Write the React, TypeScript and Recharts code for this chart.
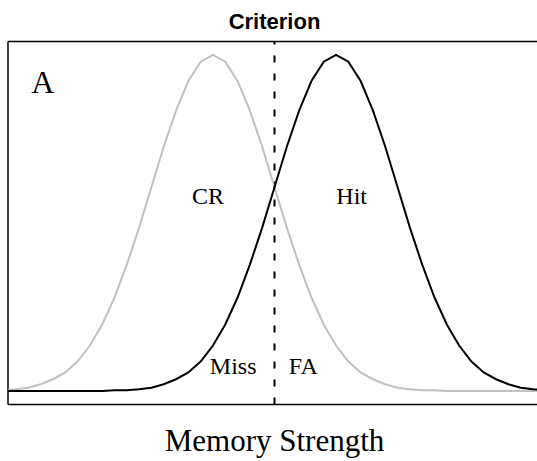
import React from "react";
import {
  LineChart,
  Line,
  XAxis,
  YAxis,
  ReferenceLine,
  ReferenceDot,
  Label,
} from "recharts";

// memory strength (x), read at steps of 0.2
const strength = [
  -3.4, -3.2, -3.0, -2.8, -2.6, -2.4, -2.2, -2.0, -1.8, -1.6, -1.4, -1.2,
  -1.0, -0.8, -0.6, -0.4, -0.2, 0.0, 0.2, 0.4, 0.6, 0.8, 1.0, 1.2, 1.4, 1.6,
  1.8, 2.0, 2.2, 2.4, 2.6, 2.8, 3.0, 3.2, 3.4, 3.6, 3.8, 4.0, 4.2, 4.4, 4.6,
  4.8, 5.0, 5.2, 5.4,
];

// new items (grey curve)
const newItems = [
  0.001, 0.002, 0.004, 0.008, 0.014, 0.022, 0.035, 0.054, 0.079, 0.111, 0.15,
  0.194, 0.242, 0.29, 0.333, 0.368, 0.391, 0.399, 0.391, 0.368, 0.333, 0.29,
  0.242, 0.194, 0.15, 0.111, 0.079, 0.054, 0.035, 0.022, 0.014, 0.008, 0.004,
  0.002, 0.001, 0.001, 0, 0, 0, 0, 0, 0, 0, 0, 0,
];

// old items (black curve)
const oldItems = [
  0, 0, 0, 0, 0, 0, 0, 0, 0, 0.001, 0.001, 0.002, 0.004, 0.008, 0.014, 0.022,
  0.035, 0.054, 0.079, 0.111, 0.15, 0.194, 0.242, 0.29, 0.333, 0.368, 0.391,
  0.399, 0.391, 0.368, 0.333, 0.29, 0.242, 0.194, 0.15, 0.111, 0.079, 0.054,
  0.035, 0.022, 0.014, 0.008, 0.004, 0.002, 0.001,
];

const criterion = 1;

const data = strength.map((x, i) => ({
  x,
  newItems: newItems[i],
  oldItems: oldItems[i],
}));

const serif = "'Liberation Serif', 'Times New Roman', serif";
const sans = "'Liberation Sans', Arial, Helvetica, sans-serif";

const xDomain: [number, number] = [-3.33, 5.33];
const yDomain: [number, number] = [-0.016, 0.415];

function textDot(x: number, y: number, text: string, size = 24) {
  return (
    <ReferenceDot
      x={x}
      y={y}
      r={0}
      fill="none"
      stroke="none"
      ifOverflow="visible"
      label={{
        value: text,
        position: "center",
        fill: "#000",
        fontSize: size,
        fontFamily: serif,
      }}
    />
  );
}

export default function App() {
  return (
    <div
      style={{
        position: "absolute",
        left: 0,
        top: 0,
        width: 537,
        height: 461,
        overflow: "hidden",
        background: "#fff",
      }}
    >
      <LineChart
        width={560}
        height={461}
        data={data}
        margin={{ top: 41.5, right: 19, bottom: 0, left: 8 }}
      >
        <XAxis
          dataKey="x"
          type="number"
          domain={xDomain}
          allowDataOverflow
          height={56.5}
          axisLine={false}
          tickLine={false}
          tick={false}
        >
          <Label
            value="Memory Strength"
            position="insideBottom"
            offset={10}
            fill="#000"
            fontSize={31}
            fontFamily={serif}
          />
        </XAxis>
        <YAxis type="number" domain={yDomain} allowDataOverflow hide />
        {/* box: top, bottom, left (right side falls outside the frame) */}
        <ReferenceLine y={yDomain[1]} stroke="#000" strokeWidth={1.5} ifOverflow="visible" />
        <ReferenceLine y={yDomain[0]} stroke="#000" strokeWidth={1.5} ifOverflow="visible" />
        <ReferenceLine x={xDomain[0]} stroke="#000" strokeWidth={1.5} ifOverflow="visible" />
        <ReferenceLine
          x={criterion}
          stroke="#000"
          strokeWidth={2}
          strokeDasharray="7 11"
          label={{
            value: "Criterion",
            position: "top",
            offset: 12.5,
            fill: "#000",
            fontSize: 22,
            fontWeight: "bold",
            fontFamily: sans,
          }}
        />
        <Line
          type="linear"
          dataKey="newItems"
          stroke="#c0c0c0"
          strokeWidth={2}
          dot={false}
          isAnimationActive={false}
        />
        <Line
          type="linear"
          dataKey="oldItems"
          stroke="#000"
          strokeWidth={2}
          dot={false}
          isAnimationActive={false}
        />
        {textDot(-2.766, 0.3676, "A", 32)}
        {textDot(-0.08, 0.2316, "CR")}
        {textDot(2.254, 0.2316, "Hit")}
        {textDot(0.329, 0.0303, "Miss")}
        {textDot(1.468, 0.0303, "FA")}
      </LineChart>
    </div>
  );
}
